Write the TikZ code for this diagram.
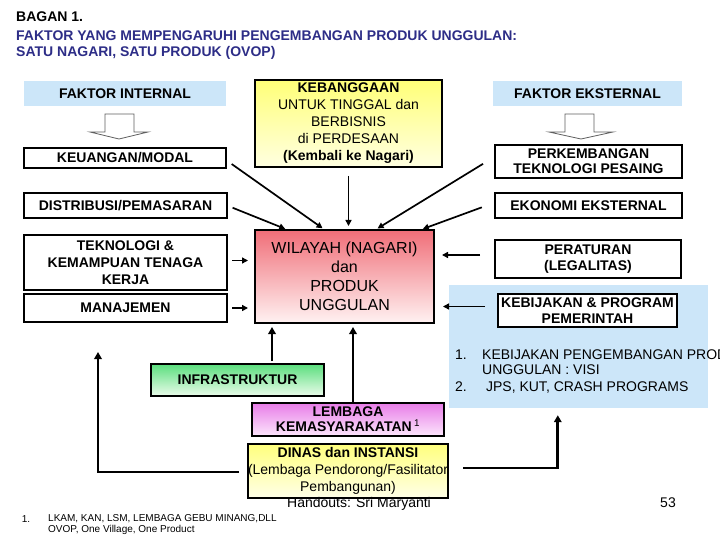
\documentclass[tikz,border=0pt]{standalone}
\usepackage{fontspec}
\setmainfont{Liberation Sans}
\usetikzlibrary{arrows.meta,calc}
\definecolor{navy}{RGB}{45,45,135}
\definecolor{lblue}{RGB}{204,230,249}
\definecolor{hollowgray}{RGB}{95,95,95}
\tikzset{
  lbl/.style={font=\fontsize{14}{15}\selectfont\bfseries, align=center},
  box/.style={draw, line width=1.4pt, inner sep=0pt, outer sep=0pt, lbl},
  lnk/.style={line width=1.7pt, -{Triangle[length=6pt,width=6pt]}},
  blk/.style={line width=2.8pt, -{Triangle[length=7pt,width=7.5pt]}},
  hollow/.style={draw=hollowgray, line width=0.8pt, fill=white},
  titl/.style={anchor=west, inner sep=0pt, font=\fontsize{14}{15}\selectfont\bfseries},
}
\begin{document}
\begin{tikzpicture}[x=1pt,y=-1pt]
\useasboundingbox (0,0) rectangle (720,540);
\clip (0,0) rectangle (720,540);
\fill[white] (0,0) rectangle (720,540);

% title
\node[titl] (t1) at (16,17) {BAGAN 1.};
\node[titl, text=navy] (t2) at (16,36) {FAKTOR YANG MEMPENGARUHI PENGEMBANGAN PRODUK UNGGULAN:};
\node[titl, text=navy] (t3) at (16,53) {SATU NAGARI, SATU PRODUK (OVOP)};

% left column
\node[lbl, fill=lblue, minimum width=202pt, minimum height=25pt, inner sep=0pt] (FI) at (125,93.5) {FAKTOR INTERNAL};
\draw[hollow] (105,114) -- (134,114) -- (134,132) -- (148,132) -- (119,139) -- (90,132) -- (105,132) -- cycle;
\node[box, minimum width=202pt, minimum height=20pt] (KEU) at (125,158) {KEUANGAN/MODAL};
\node[box, minimum width=203pt, minimum height=25pt] (DIS) at (125.5,205.5) {DISTRIBUSI/PEMASARAN};
\node[box, minimum width=203pt, minimum height=55pt, font=\fontsize{14}{17}\selectfont\bfseries] (TEK) at (125.5,262.5) {TEKNOLOGI \&\\KEMAMPUAN TENAGA\\KERJA};
\node[box, minimum width=203pt, minimum height=28pt] (MAN) at (125.5,308) {MANAJEMEN};

% centre top
\node[box, minimum width=187pt, minimum height=87pt, top color={rgb,255:red,255;green,255;blue,120}, bottom color={rgb,255:red,255;green,255;blue,225}, font=\fontsize{14}{17}\selectfont] (KB) at (348.5,123.5)
  {\textbf{KEBANGGAAN}\\UNTUK TINGGAL dan\\BERBISNIS\\di PERDESAAN\\\textbf{(Kembali ke Nagari)}};

% right column
\node[lbl, fill=lblue, minimum width=189pt, minimum height=25pt, inner sep=0pt] (FE) at (587.5,93.5) {FAKTOR EKSTERNAL};
\draw[hollow] (565,114) -- (594,114) -- (594,132) -- (613,132) -- (581,139) -- (549,132) -- (565,132) -- cycle;
\node[box, minimum width=187pt, minimum height=33pt] (PK) at (588.5,161.5) {PERKEMBANGAN\\TEKNOLOGI PESAING};
\node[box, minimum width=187pt, minimum height=25pt] (EK) at (588.5,205.5) {EKONOMI EKSTERNAL};
\node[box, minimum width=186pt, minimum height=38pt, font=\fontsize{14}{16}\selectfont\bfseries] (PER) at (588,259) {PERATURAN\\(LEGALITAS)};
\node[fill=lblue, minimum width=259pt, minimum height=123pt, inner sep=0pt] (PNL) at (578.5,346.5) {};
\node[box, fill=white, minimum width=179pt, minimum height=33pt, font=\fontsize{14}{16}\selectfont\bfseries] (KEBI) at (587.5,310.5) {KEBIJAKAN \& PROGRAM\\PEMERINTAH};
\node[anchor=north west, inner sep=0pt, font=\fontsize{14}{15}\selectfont, align=left] (LST) at (455,349)
  {\begin{tabular}{@{}p{27pt}@{}l@{}}1. & KEBIJAKAN PENGEMBANGAN PRODUK\\ & UNGGULAN : VISI\\[2pt] 2. & \ JPS, KUT, CRASH PROGRAMS\end{tabular}};

% central box
\node[box, minimum width=179pt, minimum height=93pt, top color={rgb,255:red,240;green,110;blue,120}, bottom color={rgb,255:red,255;green,242;blue,242}, font=\fontsize{16}{19}\selectfont\mdseries] (W) at (344.5,276.5)
  {WILAYAH (NAGARI)\\dan\\PRODUK\\UNGGULAN};

% bottom boxes
\node[box, minimum width=173pt, minimum height=32pt, top color={rgb,255:red,90;green,222;blue,125}, bottom color={rgb,255:red,235;green,252;blue,235}] (INF) at (237.5,380) {INFRASTRUKTUR};
\node[box, minimum width=192pt, minimum height=33pt, top color={rgb,255:red,232;green,125;blue,232}, bottom color={rgb,255:red,252;green,230;blue,252}] (LEM) at (348,419.5) {LEMBAGA\\KEMASYARAKATAN\,\textsuperscript{\mdseries 1}};
\node[box, minimum width=192pt, minimum height=54pt, top color={rgb,255:red,255;green,255;blue,125}, bottom color={rgb,255:red,255;green,255;blue,232}, font=\fontsize{14}{17}\selectfont] (DIN) at (348,471)
  {\textbf{DINAS dan INSTANSI}\\(Lembaga Pendorong/Fasilitator\\Pembangunan)};
\node[inner sep=0pt, font=\fontsize{14}{15}\selectfont] (HO) at (359,504) {Handouts: Sri Maryanti};

% converging arrows (top)
\draw[lnk, shorten <=6pt, shorten >=3pt] (DIS.east) -- ($(W.north west)+(33,0)$);
\draw[lnk, shorten <=7pt, shorten >=3pt] ($(KEU.east)+(0,2)$) -- ($(W.north west)+(70,0)$);
\draw[lnk, shorten <=9pt, shorten >=4pt] (KB.south) -- (KB.south |- W.north);
\draw[lnk, shorten <=14pt, shorten >=3pt] ($(PK.west)+(0,-5)$) -- ($(W.north west)+(120,0)$);
\draw[lnk, shorten <=14pt, shorten >=3pt] ($(EK.west)+(0,-3)$) -- ($(W.north west)+(165,0)$);

% side arrows
\draw[lnk, shorten <=5pt, shorten >=7pt] ($(TEK.east)+(0,-2)$) -- ($(TEK.east -| W.west)+(0,-2)$);
\draw[lnk, shorten <=5pt, shorten >=7pt] (MAN.east) -- (MAN.east -| W.west);
\coordinate (perA) at ($(PER.west)+(0,-4)$);
\draw[lnk, shorten <=15pt, shorten >=8pt] (perA) -- (perA -| W.east);
\coordinate (kebA) at ($(KEBI.west)+(0,-4)$);
\draw[lnk, shorten <=13pt, shorten >=9pt] (kebA) -- (kebA -| W.east);

% bottom arrows
\coordinate (infT) at ($(INF.north)+(34.5,0)$);
\draw[blk, shorten <=3pt, shorten >=4pt] (infT) -- (infT |- W.south);
\coordinate (lemT) at ($(LEM.north)+(5,0)$);
\draw[blk, shorten <=1pt, shorten >=4pt] (lemT) -- (lemT |- W.south);
\coordinate (tipL) at (98,352);
\draw[blk, shorten <=9pt] ($(DIN.west)+(0,1)$) -| (tipL);
\coordinate (tipR) at ($(PNL.south west)+(109,0)$);
\draw[blk, shorten <=15pt, shorten >=7pt] ($(DIN.east)+(0,-3)$) -| (tipR);

% footnote and page number
\node[inner sep=0pt, font=\fontsize{10}{12}\selectfont] (fn1) at (26,519) {1.};
\node[anchor=west, inner sep=0pt, font=\fontsize{10}{12}\selectfont] (fn2) at (48,519) {LKAM, KAN, LSM, LEMBAGA GEBU MINANG,DLL};
\node[anchor=west, inner sep=0pt, font=\fontsize{10}{12}\selectfont] (fn3) at (48,530) {OVOP, One Village, One Product};
\node[inner sep=0pt, font=\fontsize{14}{15}\selectfont] (pg) at (668,503) {53};
\end{tikzpicture}
\end{document}
